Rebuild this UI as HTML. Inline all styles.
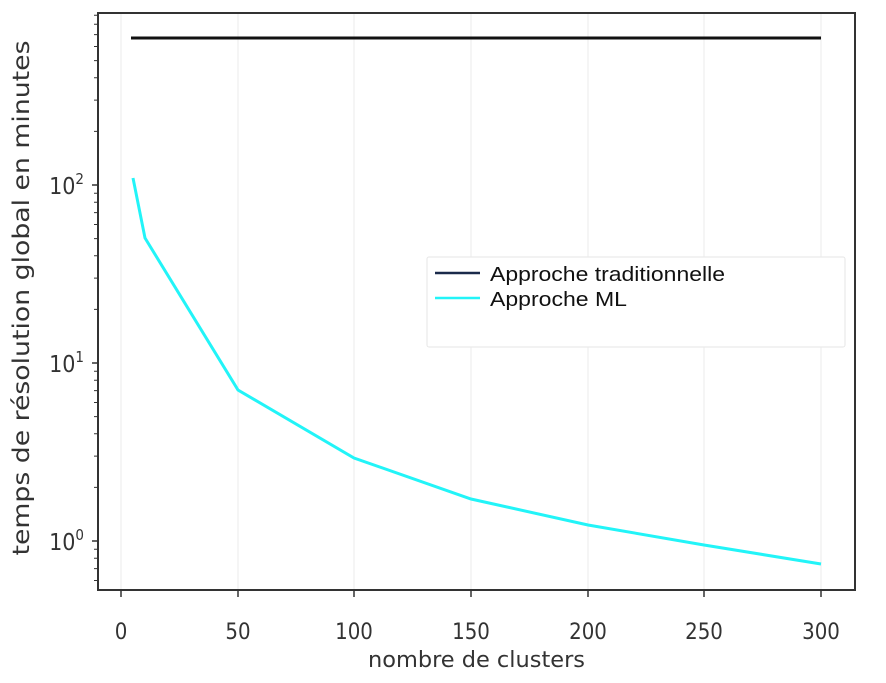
<!DOCTYPE html>
<html><head><meta charset="utf-8"><style>body{margin:0;background:#fff}</style></head><body>
<svg width="886" height="678" xmlns="http://www.w3.org/2000/svg" font-family="'DejaVu Sans Condensed','DejaVu Sans','Liberation Sans',sans-serif">
<rect width="886" height="678" fill="#fff"/>
<g stroke="#ebebeb" stroke-width="1">
<line x1="121" y1="13" x2="121" y2="590"/><line x1="238" y1="13" x2="238" y2="590"/><line x1="354" y1="13" x2="354" y2="590"/><line x1="471" y1="13" x2="471" y2="590"/><line x1="588" y1="13" x2="588" y2="590"/><line x1="704" y1="13" x2="704" y2="590"/><line x1="821" y1="13" x2="821" y2="590"/>
</g>
<line x1="131" y1="38" x2="821" y2="38" stroke="#111" stroke-width="3"/>
<polyline fill="none" stroke="#22f4f8" stroke-width="3" points="133,178 145,238 238,390 354,458 471,499 588,525 704,545 821,564"/>
<rect x="98" y="13" width="757" height="577" fill="none" stroke="#333" stroke-width="2"/>
<g stroke="#333" stroke-width="1.5">
<line x1="92" y1="185" x2="98" y2="185"/><line x1="92" y1="363" x2="98" y2="363"/><line x1="92" y1="541" x2="98" y2="541"/>
</g>
<g stroke="#333" stroke-width="1">
<path d="M94 487.4h4M94 456.1h4M94 433.8h4M94 416.6h4M94 402.5h4M94 390.6h4M94 380.3h4M94 371.2h4M94 309.4h4M94 278.1h4M94 255.8h4M94 238.6h4M94 224.5h4M94 212.6h4M94 202.3h4M94 193.2h4M94 131.4h4M94 100.1h4M94 77.8h4M94 60.6h4M94 46.5h4M94 34.6h4M94 24.3h4M94 15.2h4M94 580.5h4M94 568.6h4M94 558.3h4M94 549.2h4"/>
</g>
<g stroke="#333" stroke-width="1.5">
<path d="M121 590v7M238 590v7M354 590v7M471 590v7M588 590v7M704 590v7M821 590v7"/>
</g>
<g font-size="22" fill="#333" text-anchor="middle">
<text x="121" y="639">0</text><text x="238" y="639">50</text><text x="354" y="639">100</text><text x="471" y="639">150</text><text x="588" y="639">200</text><text x="704" y="639">250</text><text x="821" y="639">300</text>
</g>
<g font-size="23" fill="#333" text-anchor="end">
<text x="84" y="194">10<tspan font-size="15" dy="-10">2</tspan></text>
<text x="84" y="372">10<tspan font-size="15" dy="-10">1</tspan></text>
<text x="84" y="550">10<tspan font-size="15" dy="-10">0</tspan></text>
</g>
<text x="368" y="667" font-size="22" fill="#333" textLength="217" lengthAdjust="spacingAndGlyphs">nombre de clusters</text>
<text transform="translate(29,298) rotate(-90)" font-size="23" fill="#333" text-anchor="middle" textLength="515" lengthAdjust="spacingAndGlyphs">temps de résolution global en minutes</text>
<rect x="427" y="257" width="418" height="90" fill="#fff" stroke="#e6e6e6" stroke-width="1" rx="2"/>
<line x1="435" y1="273" x2="480" y2="273" stroke="#1a2a4a" stroke-width="2.5"/>
<line x1="435" y1="298" x2="480" y2="298" stroke="#22f4f8" stroke-width="2.5"/>
<g font-family="'Liberation Sans',sans-serif" font-size="20" fill="#111">
<text x="490" y="281" textLength="235" lengthAdjust="spacingAndGlyphs">Approche traditionnelle</text>
<text x="490" y="306" textLength="137" lengthAdjust="spacingAndGlyphs">Approche ML</text>
</g>
</svg>
</body></html>
